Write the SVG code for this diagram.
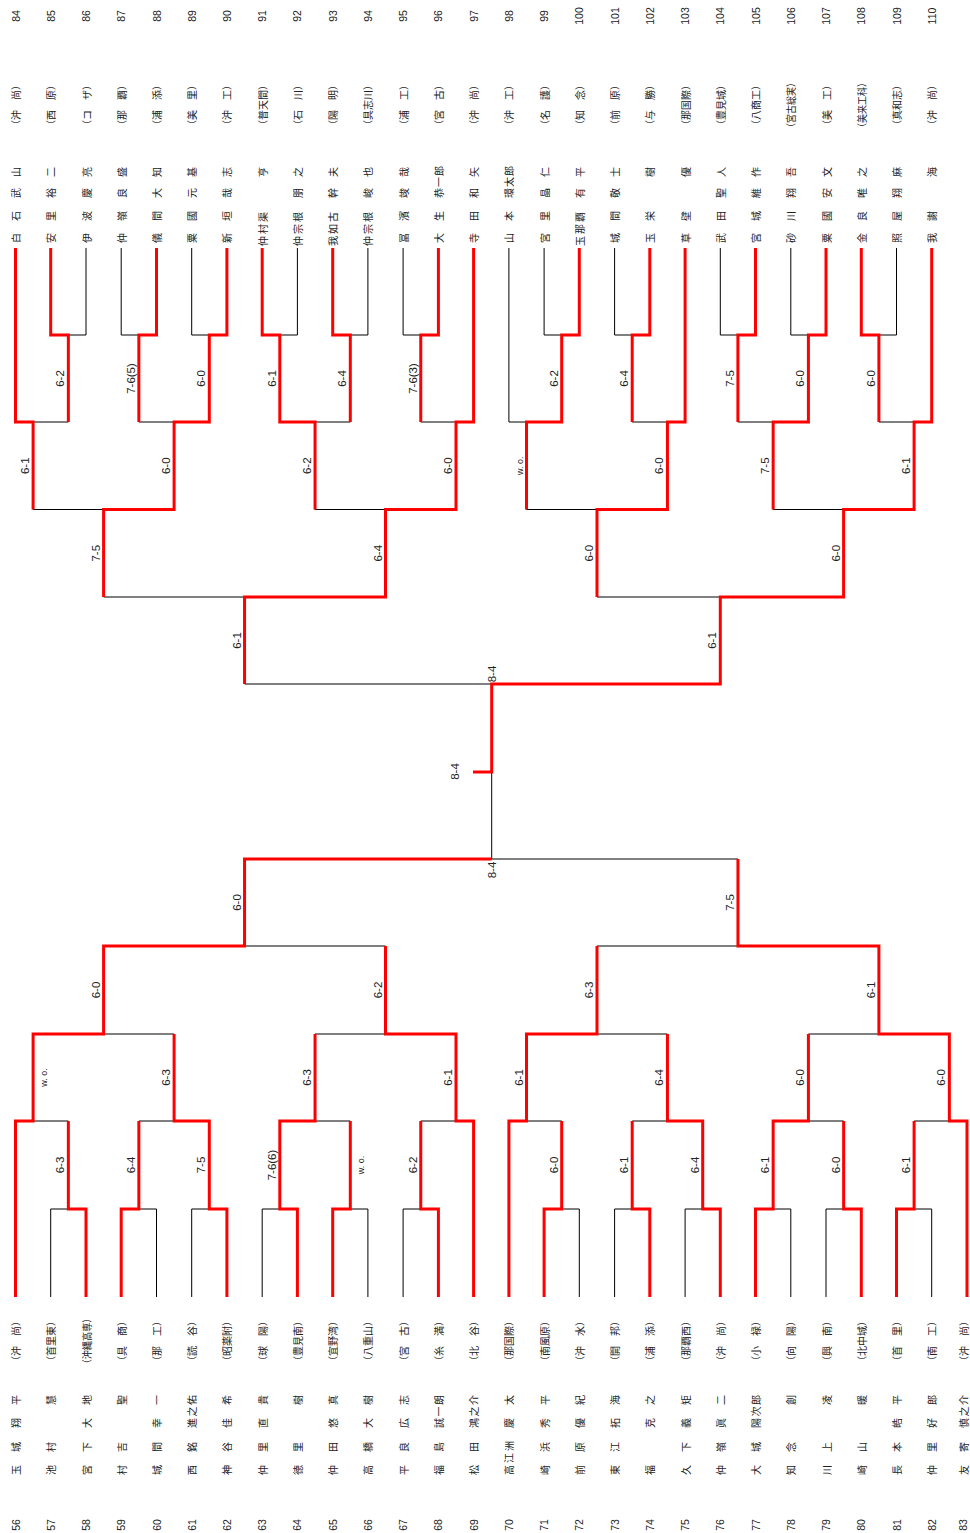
<svg xmlns="http://www.w3.org/2000/svg" width="970" height="1533" viewBox="0 0 970 1533">
<style>
text{text-anchor:middle;dominant-baseline:central;fill:#222}
.n{font-family:"Liberation Sans",Arial,sans-serif;font-size:10.5px}
.s,.j{font-family:"Noto Sans CJK JP",sans-serif;font-size:10px}
.sc text{font-family:"Liberation Sans",Arial,sans-serif;font-size:11.5px}
.sc text.wo{font-size:9px}
.bk{fill:none;stroke:#000;stroke-width:1}
.rd{fill:none;stroke:#f00;stroke-width:3;stroke-linejoin:miter}
</style>
<rect width="970" height="1533" fill="#fff"/>
<g id="connectors">
<path class="bk" d="M15.5 248V422M50.7 248V335M86 248V335M121.2 248V335M156.5 248V335M191.7 248V335M226.9 248V335M262.2 248V335M297.4 248V335M332.7 248V335M367.9 248V335M403.1 248V335M438.4 248V335M473.6 248V422M508.9 248V422M544.1 248V335M579.3 248V335M614.6 248V335M649.8 248V335M685.1 248V422M720.3 248V335M755.5 248V335M790.8 248V335M826 248V335M861.3 248V335M896.5 248V335M931.7 248V422
M50.7 335H86M68.35 335V422M121.2 335H156.5M138.85 335V422M191.7 335H226.9M209.3 335V422M262.2 335H297.4M279.8 335V422M332.7 335H367.9M350.3 335V422M403.1 335H438.4M420.75 335V422M544.1 335H579.3M561.7 335V422M614.6 335H649.8M632.2 335V422M720.3 335H755.5M737.9 335V422M790.8 335H826M808.4 335V422M861.3 335H896.5M878.9 335V422
M15.5 422H68.35M33.1 422V509.5M138.85 422H209.3M174.1 422V509.5M279.8 422H350.3M315.05 422V509.5M420.75 422H473.6M456 422V509.5M508.9 422H561.7M526.5 422V509.5M632.2 422H685.1M667.45 422V509.5M737.9 422H808.4M773.15 422V509.5M878.9 422H931.7M914.1 422V509.5
M33.1 509.5H174.1M103.6 509.5V597M315.05 509.5H456M385.5 509.5V597M526.5 509.5H667.45M597 509.5V597M773.15 509.5H914.1M843.6 509.5V597
M103.6 597H385.5M244.55 597V684M597 597H843.6M720.3 597V684
M244.55 684H720.3M491.7 684V859
M15.5 1297V1121M50.7 1297V1209M86 1297V1209M121.2 1297V1209M156.5 1297V1209M191.7 1297V1209M226.9 1297V1209M262.2 1297V1209M297.4 1297V1209M332.7 1297V1209M367.9 1297V1209M403.1 1297V1209M438.4 1297V1209M473.6 1297V1121M508.9 1297V1121M544.1 1297V1209M579.3 1297V1209M614.6 1297V1209M649.8 1297V1209M685.1 1297V1209M720.3 1297V1209M755.5 1297V1209M790.8 1297V1209M826 1297V1209M861.3 1297V1209M896.5 1297V1209M931.7 1297V1209M967 1297V1121
M50.7 1209H86M68.35 1209V1121M121.2 1209H156.5M138.85 1209V1121M191.7 1209H226.9M209.3 1209V1121M262.2 1209H297.4M279.8 1209V1121M332.7 1209H367.9M350.3 1209V1121M403.1 1209H438.4M420.75 1209V1121M544.1 1209H579.3M561.7 1209V1121M614.6 1209H649.8M632.2 1209V1121M685.1 1209H720.3M702.7 1209V1121M755.5 1209H790.8M773.15 1209V1121M826 1209H861.3M843.65 1209V1121M896.5 1209H931.7M914.1 1209V1121
M15.5 1121H68.35M33.1 1121V1034M138.85 1121H209.3M174.1 1121V1034M279.8 1121H350.3M315.05 1121V1034M420.75 1121H473.6M456 1121V1034M508.9 1121H561.7M526.5 1121V1034M632.2 1121H702.7M667.45 1121V1034M773.15 1121H843.65M808.4 1121V1034M914.1 1121H967M949.35 1121V1034
M33.1 1034H174.1M103.6 1034V946M315.05 1034H456M385.5 1034V946M526.5 1034H667.45M597 1034V946M808.4 1034H949.35M878.9 1034V946
M103.6 946H385.5M244.55 946V859M597 946H878.9M737.95 946V859
M244.55 859H737.95"/>
<path class="rd" d="M50.7 248V335H68.35V422M156.5 248V335H138.85V422M226.9 248V335H209.3V422M262.2 248V335H279.8V422M332.7 248V335H350.3V422M438.4 248V335H420.75V422M579.3 248V335H561.7V422M649.8 248V335H632.2V422M755.5 248V335H737.9V422M826 248V335H808.4V422M861.3 248V335H878.9V422
M15.5 248V422H33.1V509.5M209.3 335V422H174.1V509.5M279.8 335V422H315.05V509.5M473.6 248V422H456V509.5M561.7 335V422H526.5V509.5M685.1 248V422H667.45V509.5M808.4 335V422H773.15V509.5M931.7 248V422H914.1V509.5
M174.1 422V509.5H103.6V597M456 422V509.5H385.5V597M667.45 422V509.5H597V597M914.1 422V509.5H843.6V597
M385.5 509.5V597H244.55V684M843.6 509.5V597H720.3V684
M720.3 597V684H491.7V772H473"/>
<path class="rd" d="M86 1297V1209H68.35V1121M121.2 1297V1209H138.85V1121M226.9 1297V1209H209.3V1121M297.4 1297V1209H279.8V1121M332.7 1297V1209H350.3V1121M438.4 1297V1209H420.75V1121M544.1 1297V1209H561.7V1121M649.8 1297V1209H632.2V1121M720.3 1297V1209H702.7V1121M755.5 1297V1209H773.15V1121M861.3 1297V1209H843.65V1121M896.5 1297V1209H914.1V1121
M15.5 1297V1121H33.1V1034M209.3 1209V1121H174.1V1034M279.8 1209V1121H315.05V1034M473.6 1297V1121H456V1034M508.9 1297V1121H526.5V1034M702.7 1209V1121H667.45V1034M773.15 1209V1121H808.4V1034M967 1297V1121H949.35V1034
M33.1 1121V1034H103.6V946M456 1121V1034H385.5V946M526.5 1121V1034H597V946M949.35 1121V1034H878.9V946
M103.6 1034V946H244.55V859M878.9 1034V946H737.95V859
M244.55 946V859H491.7"/>
</g>
<g transform="matrix(0 -1 1 0 0 1533)">
<g id="p84"><text class="n" x="1517" y="15.5">84</text><text class="s" x="1428" y="15.5">（沖　尚）</text><text class="j" x="1295 1317 1340 1361" y="15.5">白石武山</text></g>
<g id="p85"><text class="n" x="1517" y="50.7">85</text><text class="s" x="1428" y="50.7">（西　原）</text><text class="j" x="1295 1317 1340 1361" y="50.7">安里裕二</text></g>
<g id="p86"><text class="n" x="1517" y="86">86</text><text class="s" x="1428" y="86">（コ　ザ）</text><text class="j" x="1295 1317 1340 1361" y="86">伊波慶亮</text></g>
<g id="p87"><text class="n" x="1517" y="121.2">87</text><text class="s" x="1428" y="121.2">（那　覇）</text><text class="j" x="1295 1317 1340 1361" y="121.2">仲嶺良盛</text></g>
<g id="p88"><text class="n" x="1517" y="156.5">88</text><text class="s" x="1428" y="156.5">（浦　添）</text><text class="j" x="1295 1317 1340 1361" y="156.5">儀間大知</text></g>
<g id="p89"><text class="n" x="1517" y="191.7">89</text><text class="s" x="1428" y="191.7">（美　里）</text><text class="j" x="1295 1317 1340 1361" y="191.7">粟國元基</text></g>
<g id="p90"><text class="n" x="1517" y="226.9">90</text><text class="s" x="1428" y="226.9">（沖　工）</text><text class="j" x="1295 1317 1340 1361" y="226.9">新垣哉志</text></g>
<g id="p91"><text class="n" x="1517" y="262.2">91</text><text class="s" x="1428" y="262.2">（普天間）</text><text class="j" x="1292 1304 1316 1361" y="262.2">仲村渠亨</text></g>
<g id="p92"><text class="n" x="1517" y="297.4">92</text><text class="s" x="1428" y="297.4">（石　川）</text><text class="j" x="1292 1304 1316 1340 1361" y="297.4">仲宗根朋之</text></g>
<g id="p93"><text class="n" x="1517" y="332.7">93</text><text class="s" x="1428" y="332.7">（陽　明）</text><text class="j" x="1292 1304 1316 1340 1361" y="332.7">我如古幹夫</text></g>
<g id="p94"><text class="n" x="1517" y="367.9">94</text><text class="s" x="1428" y="367.9">（具志川）</text><text class="j" x="1292 1304 1316 1340 1361" y="367.9">仲宗根峻也</text></g>
<g id="p95"><text class="n" x="1517" y="403.1">95</text><text class="s" x="1428" y="403.1">（浦　工）</text><text class="j" x="1295 1317 1340 1361" y="403.1">冨濱竣哉</text></g>
<g id="p96"><text class="n" x="1517" y="438.4">96</text><text class="s" x="1428" y="438.4">（宮　古）</text><text class="j" x="1295 1317 1340 1351 1362" y="438.4">大生恭一郎</text></g>
<g id="p97"><text class="n" x="1517" y="473.6">97</text><text class="s" x="1428" y="473.6">（沖　尚）</text><text class="j" x="1295 1317 1340 1361" y="473.6">寺田和矢</text></g>
<g id="p98"><text class="n" x="1517" y="508.9">98</text><text class="s" x="1428" y="508.9">（沖　工）</text><text class="j" x="1295 1317 1340 1351 1362" y="508.9">山本環太郎</text></g>
<g id="p99"><text class="n" x="1517" y="544.1">99</text><text class="s" x="1428" y="544.1">（名　護）</text><text class="j" x="1295 1317 1340 1361" y="544.1">宮里晶仁</text></g>
<g id="p100"><text class="n" x="1517" y="579.3">100</text><text class="s" x="1428" y="579.3">（知　念）</text><text class="j" x="1292 1304 1316 1340 1361" y="579.3">玉那覇有平</text></g>
<g id="p101"><text class="n" x="1517" y="614.6">101</text><text class="s" x="1428" y="614.6">（前　原）</text><text class="j" x="1295 1317 1340 1361" y="614.6">城間敬士</text></g>
<g id="p102"><text class="n" x="1517" y="649.8">102</text><text class="s" x="1428" y="649.8">（与　勝）</text><text class="j" x="1295 1317 1361" y="649.8">玉栄樹</text></g>
<g id="p103"><text class="n" x="1517" y="685.1">103</text><text class="s" x="1428" y="685.1">（那国際）</text><text class="j" x="1295 1317 1361" y="685.1">草壁優</text></g>
<g id="p104"><text class="n" x="1517" y="720.3">104</text><text class="s" x="1428" y="720.3">（豊見城）</text><text class="j" x="1295 1317 1340 1361" y="720.3">武田聖人</text></g>
<g id="p105"><text class="n" x="1517" y="755.5">105</text><text class="s" x="1428" y="755.5">（八商工）</text><text class="j" x="1295 1317 1340 1361" y="755.5">宮城維作</text></g>
<g id="p106"><text class="n" x="1517" y="790.8">106</text><text class="s" x="1428" y="790.8" textLength="54" lengthAdjust="spacingAndGlyphs">（宮古総実）</text><text class="j" x="1295 1317 1340 1361" y="790.8">砂川翔吾</text></g>
<g id="p107"><text class="n" x="1517" y="826">107</text><text class="s" x="1428" y="826">（美　工）</text><text class="j" x="1295 1317 1340 1361" y="826">粟國安文</text></g>
<g id="p108"><text class="n" x="1517" y="861.3">108</text><text class="s" x="1428" y="861.3" textLength="54" lengthAdjust="spacingAndGlyphs">（美来工科）</text><text class="j" x="1295 1317 1340 1361" y="861.3">金良唯之</text></g>
<g id="p109"><text class="n" x="1517" y="896.5">109</text><text class="s" x="1428" y="896.5">（真和志）</text><text class="j" x="1295 1317 1340 1361" y="896.5">照屋翔麻</text></g>
<g id="p110"><text class="n" x="1517" y="931.7">110</text><text class="s" x="1428" y="931.7">（沖　尚）</text><text class="j" x="1295 1317 1361" y="931.7">我謝海</text></g>

<g id="p56"><text class="n" x="8" y="15.5">56</text><text class="s" x="192" y="15.5">（沖　尚）</text><text class="j" x="63 86 110 133" y="15.5">玉城翔平</text></g>
<g id="p57"><text class="n" x="8" y="50.7">57</text><text class="s" x="192" y="50.7">（首里東）</text><text class="j" x="63 86 133" y="50.7">池村慧</text></g>
<g id="p58"><text class="n" x="8" y="86">58</text><text class="s" x="192" y="86" textLength="55" lengthAdjust="spacingAndGlyphs">（沖縄高専）</text><text class="j" x="63 86 110 133" y="86">宮下大地</text></g>
<g id="p59"><text class="n" x="8" y="121.2">59</text><text class="s" x="192" y="121.2">（具　商）</text><text class="j" x="63 86 133" y="121.2">村吉聖</text></g>
<g id="p60"><text class="n" x="8" y="156.5">60</text><text class="s" x="192" y="156.5">（那　工）</text><text class="j" x="63 86 110 133" y="156.5">城間幸一</text></g>
<g id="p61"><text class="n" x="8" y="191.7">61</text><text class="s" x="192" y="191.7">（読　谷）</text><text class="j" x="63 86 110 121.5 133" y="191.7">西銘進之佑</text></g>
<g id="p62"><text class="n" x="8" y="226.9">62</text><text class="s" x="192" y="226.9">（昭薬附）</text><text class="j" x="63 86 110 133" y="226.9">神谷佳希</text></g>
<g id="p63"><text class="n" x="8" y="262.2">63</text><text class="s" x="192" y="262.2">（球　陽）</text><text class="j" x="63 86 110 133" y="262.2">仲里直貴</text></g>
<g id="p64"><text class="n" x="8" y="297.4">64</text><text class="s" x="192" y="297.4">（豊見南）</text><text class="j" x="63 86 133" y="297.4">徳里樹</text></g>
<g id="p65"><text class="n" x="8" y="332.7">65</text><text class="s" x="192" y="332.7">（宜野湾）</text><text class="j" x="63 86 110 133" y="332.7">仲田悠真</text></g>
<g id="p66"><text class="n" x="8" y="367.9">66</text><text class="s" x="192" y="367.9">（八重山）</text><text class="j" x="63 86 110 133" y="367.9">高橋大樹</text></g>
<g id="p67"><text class="n" x="8" y="403.1">67</text><text class="s" x="192" y="403.1">（宮　古）</text><text class="j" x="63 86 110 133" y="403.1">平良広志</text></g>
<g id="p68"><text class="n" x="8" y="438.4">68</text><text class="s" x="192" y="438.4">（糸　満）</text><text class="j" x="63 86 110 121.5 133" y="438.4">福島誠一朗</text></g>
<g id="p69"><text class="n" x="8" y="473.6">69</text><text class="s" x="192" y="473.6">（北　谷）</text><text class="j" x="63 86 110 121.5 133" y="473.6">松田鴻之介</text></g>
<g id="p70"><text class="n" x="8" y="508.9">70</text><text class="s" x="192" y="508.9">（那国際）</text><text class="j" x="63 75 87 110 133" y="508.9">高江洲慶太</text></g>
<g id="p71"><text class="n" x="8" y="544.1">71</text><text class="s" x="192" y="544.1">（南風原）</text><text class="j" x="63 86 110 133" y="544.1">崎浜秀平</text></g>
<g id="p72"><text class="n" x="8" y="579.3">72</text><text class="s" x="192" y="579.3">（沖　水）</text><text class="j" x="63 86 110 133" y="579.3">前原優紀</text></g>
<g id="p73"><text class="n" x="8" y="614.6">73</text><text class="s" x="192" y="614.6">（開　邦）</text><text class="j" x="63 86 110 133" y="614.6">東江拓海</text></g>
<g id="p74"><text class="n" x="8" y="649.8">74</text><text class="s" x="192" y="649.8">（浦　添）</text><text class="j" x="63 110 133" y="649.8">福克之</text></g>
<g id="p75"><text class="n" x="8" y="685.1">75</text><text class="s" x="192" y="685.1">（那覇西）</text><text class="j" x="63 86 110 133" y="685.1">久下義矩</text></g>
<g id="p76"><text class="n" x="8" y="720.3">76</text><text class="s" x="192" y="720.3">（沖　尚）</text><text class="j" x="63 86 110 133" y="720.3">仲嶺眞二</text></g>
<g id="p77"><text class="n" x="8" y="755.5">77</text><text class="s" x="192" y="755.5">（小　禄）</text><text class="j" x="63 86 110 121.5 133" y="755.5">大城陽次郎</text></g>
<g id="p78"><text class="n" x="8" y="790.8">78</text><text class="s" x="192" y="790.8">（向　陽）</text><text class="j" x="63 86 133" y="790.8">知念創</text></g>
<g id="p79"><text class="n" x="8" y="826">79</text><text class="s" x="192" y="826">（興　南）</text><text class="j" x="63 86 133" y="826">川上凌</text></g>
<g id="p80"><text class="n" x="8" y="861.3">80</text><text class="s" x="192" y="861.3">（北中城）</text><text class="j" x="63 86 133" y="861.3">崎山暖</text></g>
<g id="p81"><text class="n" x="8" y="896.5">81</text><text class="s" x="192" y="896.5">（首　里）</text><text class="j" x="63 86 110 133" y="896.5">長本皓平</text></g>
<g id="p82"><text class="n" x="8" y="931.7">82</text><text class="s" x="192" y="931.7">（南　工）</text><text class="j" x="63 86 110 133" y="931.7">仲里好郎</text></g>
<g id="p83"><text class="n" x="8" y="963">83</text><text class="s" x="192" y="963">（沖　尚）</text><text class="j" x="63 86 110 121.5 133" y="963">友寄慎之介</text></g>

<g id="scores" class="sc">
<text x="1154.5" y="60.35">6-2</text><text x="1154.5" y="130.85">7-6(5)</text><text x="1154.5" y="201.3">6-0</text><text x="1154.5" y="271.8">6-1</text><text x="1154.5" y="342.3">6-4</text><text x="1154.5" y="412.75">7-6(3)</text><text x="1154.5" y="553.7">6-2</text><text x="1154.5" y="624.2">6-4</text><text x="1154.5" y="729.9">7-5</text><text x="1154.5" y="800.4">6-0</text><text x="1154.5" y="870.9">6-0</text>
<text x="1067.25" y="25.1">6-1</text><text x="1067.25" y="166.1">6-0</text><text x="1067.25" y="307.05">6-2</text><text x="1067.25" y="448">6-0</text><text class="wo" x="1067.25" y="519.5">w. o.</text><text x="1067.25" y="659.45">6-0</text><text x="1067.25" y="765.15">7-5</text><text x="1067.25" y="906.1">6-1</text>
<text x="979.75" y="95.6">7-5</text><text x="979.75" y="377.5">6-4</text><text x="979.75" y="589">6-0</text><text x="979.75" y="835.6">6-0</text>
<text x="892.5" y="236.55">6-1</text><text x="892.5" y="712.3">6-1</text>
<text x="859" y="491.5">8-4</text>
<text x="761.5" y="455">8-4</text>
<text x="663" y="491.5">8-4</text>
<text x="630.5" y="236.55">6-0</text><text x="630.5" y="729.95">7-5</text>
<text x="543" y="95.6">6-0</text><text x="543" y="377.5">6-2</text><text x="543" y="589">6-3</text><text x="543" y="870.9">6-1</text>
<text class="wo" x="455.5" y="44.1">w. o.</text><text x="455.5" y="166.1">6-3</text><text x="455.5" y="307.05">6-3</text><text x="455.5" y="448">6-1</text><text x="455.5" y="518.5">6-1</text><text x="455.5" y="659.45">6-4</text><text x="455.5" y="800.4">6-0</text><text x="455.5" y="941.35">6-0</text>
<text x="368" y="60.35">6-3</text><text x="368" y="130.85">6-4</text><text x="368" y="201.3">7-5</text><text x="368" y="271.8">7-6(6)</text><text class="wo" x="368" y="361.3">w. o.</text><text x="368" y="412.75">6-2</text><text x="368" y="553.7">6-0</text><text x="368" y="624.2">6-1</text><text x="368" y="694.7">6-4</text><text x="368" y="765.15">6-1</text><text x="368" y="835.65">6-0</text><text x="368" y="906.1">6-1</text>
</g>
</g>
</svg>
